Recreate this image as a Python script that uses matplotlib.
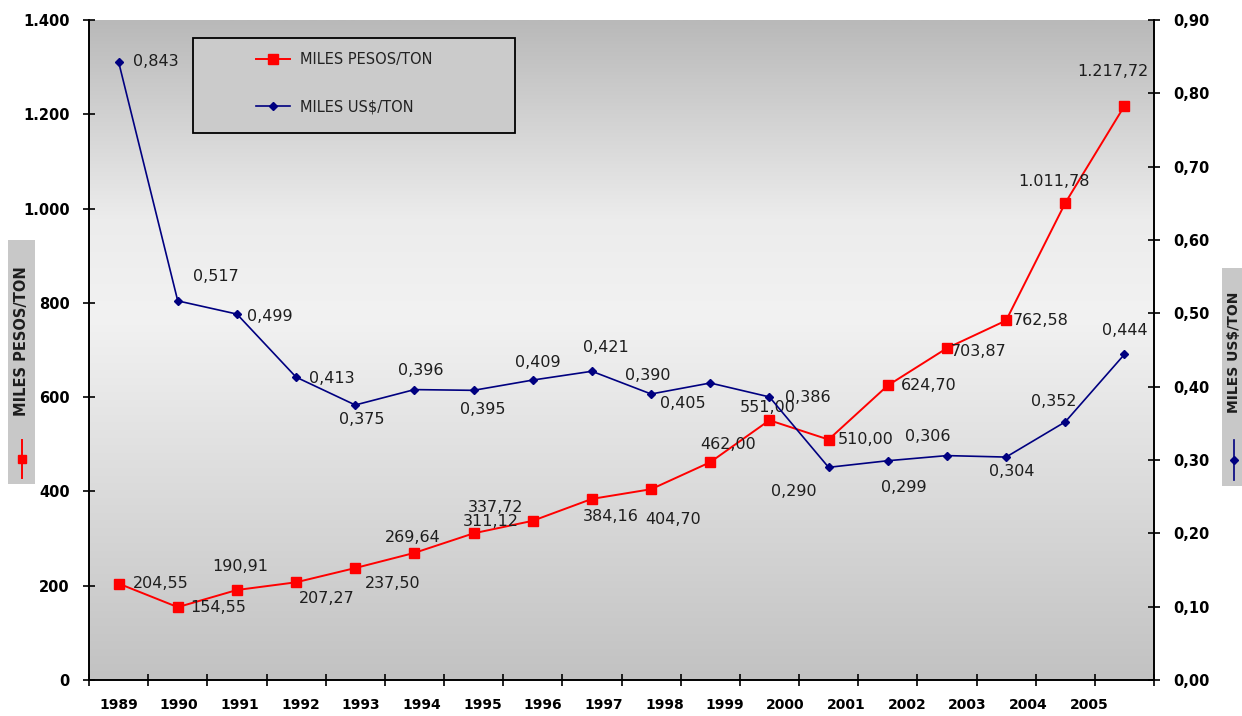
import numpy as np
import matplotlib
matplotlib.use("Agg")
import matplotlib.pyplot as plt
from matplotlib.lines import Line2D
from matplotlib.patches import Rectangle
from matplotlib.colors import LinearSegmentedColormap

plt.rcParams['font.family'] = ['DejaVu Sans']

# data
years = ['1989', '1990', '1991', '1992', '1993', '1994', '1995', '1996', '1997',
         '1998', '1999', '2000', '2001', '2002', '2003', '2004', '2005']
pesos = [204.55, 154.55, 190.91, 207.27, 237.50, 269.64, 311.12, 337.72, 384.16,
         404.70, 462.00, 551.00, 510.00, 624.70, 703.87, 762.58, 1011.78, 1217.72]
usd = [0.843, 0.517, 0.499, 0.413, 0.375, 0.396, 0.395, 0.409, 0.421,
       0.390, 0.405, 0.386, 0.290, 0.299, 0.306, 0.304, 0.352, 0.444]

# label offsets in pixels (dx, dy; dy positive = down)
pesos_off = [(42, 0), (40, 0), (3, -23), (31, 16), (37, 15), (-2, -15), (17, -12),
             (-37, -13), (19, 18), (22, 30), (18, -18), (-2, -13), (37, 0), (41, 0),
             (32, 3), (35, 0), (-11, -22), (-12, -34)]
usd_off = [(37, 0), (38, -24), (33, 2), (36, 1), (7, 15), (6, -19), (9, 19), (5, -18),
           (14, -24), (-3, -18), (-27, 21), (38, 1), (-35, 24), (16, 27), (-19, -19),
           (6, 14), (-11, -20), (0, -24)]


def fmt_pesos(v):
    s = f"{v:,.2f}"
    return s.replace(',', 'X').replace('.', ',').replace('X', '.')


def fmt_usd(v):
    return f"{v:.3f}".replace('.', ',')


fig = plt.figure(figsize=(12.42, 7.16), dpi=100)
ax = fig.add_axes([89 / 1242, 36 / 716, 1065 / 1242, 660 / 716])
ax2 = ax.twinx()

x = np.arange(len(pesos))
ax.set_xlim(-0.5, len(pesos) - 0.5)
ax.set_ylim(0, 1400)
ax2.set_ylim(0, 0.9)

# background gradient
cmap = LinearSegmentedColormap.from_list(
    'bg', [(0, '#c2c2c2'), (0.55, '#f2f2f2'), (0.7, '#ececec'), (1, '#b9b9b9')])
grad = np.linspace(0, 1, 256).reshape(-1, 1)
ax.imshow(grad, cmap=cmap, aspect='auto', extent=(-0.5, len(pesos) - 0.5, 0, 1400),
          origin='lower', zorder=0)

l1, = ax.plot(x, pesos, color='#ff0000', lw=1.4, marker='s', ms=7,
              label='MILES PESOS/TON', zorder=3)
l2, = ax2.plot(x, usd, color='#000080', lw=1.2, marker='D', ms=4.5,
               label='MILES US$/TON', zorder=3)

for i, v in enumerate(pesos):
    dx, dy = pesos_off[i]
    ax.annotate(fmt_pesos(v), (x[i], v), xytext=(dx * 0.72, -dy * 0.72),
                textcoords='offset points', ha='center', va='center',
                fontsize=11.5, color='#1e1e1e', zorder=4)
for i, v in enumerate(usd):
    dx, dy = usd_off[i]
    ax2.annotate(fmt_usd(v), (x[i], v), xytext=(dx * 0.72, -dy * 0.72),
                 textcoords='offset points', ha='center', va='center',
                 fontsize=11.5, color='#1e1e1e', zorder=4)

# x axis: ticks between categories, labels spread under them
ax.set_xticks(np.arange(-0.5, len(pesos) + 0.5, 1))
ax.set_xticklabels([])
ax.set_xticks(np.linspace(0, 16.4, len(years)), minor=True)
ax.set_xticklabels(years, minor=True, fontsize=10, fontweight='bold')
ax.tick_params(axis='x', which='major', direction='inout', length=8, width=1.2)
ax.tick_params(axis='x', which='minor', length=0, pad=13)

ax.set_yticks(np.arange(0, 1401, 200))
ax.set_yticklabels([f"{v:,}".replace(',', '.') for v in range(0, 1401, 200)],
                   fontsize=10.5, fontweight='bold')
ax.tick_params(axis='y', direction='inout', length=8, width=1.2, pad=10)

ax2.set_yticks(np.arange(0, 0.91, 0.1))
ax2.set_yticklabels([f"{v:.2f}".replace('.', ',') for v in np.arange(0, 0.91, 0.1)],
                    fontsize=10.5, fontweight='bold')
ax2.tick_params(axis='y', direction='inout', length=8, width=1.2, pad=10)

for a in (ax, ax2):
    a.spines['top'].set_visible(False)
    a.spines['left'].set_linewidth(1.2)
    a.spines['right'].set_linewidth(1.2)
    a.spines['bottom'].set_linewidth(1.2)

# legend: frame drawn as rectangle, entries placed inside
ax.add_patch(Rectangle(((193 - 89) / 1065, (680 - 133) / 660), 322 / 1065, 95 / 660,
                       transform=ax.transAxes, fc='#cbcbcb', ec='black', lw=1.3,
                       zorder=5))
leg = ax.legend(handles=[l1, l2], loc='upper left',
                bbox_to_anchor=((256 - 89) / 1065, (680 - 52) / 660),
                frameon=False, fontsize=10.5, labelspacing=2.2, borderpad=0,
                handlelength=2.3, handletextpad=0.7, borderaxespad=0)
for t in leg.get_texts():
    t.set_color('#222222')
leg.set_zorder(6)

# side axis titles in grey boxes
fig.add_artist(Rectangle((8 / 1242, 1 - 484 / 716), 27 / 1242, 244 / 716,
                         transform=fig.transFigure, fc='#c8c8c8', ec='none'))
fig.text(22 / 1242, 1 - 341 / 716, 'MILES PESOS/TON', rotation=90, ha='center',
         va='center', fontsize=10.5, color='#1e1e1e', fontweight='bold')
fig.add_artist(Line2D([22 / 1242] * 3, [1 - 478 / 716, 1 - 459 / 716, 1 - 440 / 716],
                      color='#ff0000', lw=1.4, marker='s', ms=6,
                      markevery=[1], transform=fig.transFigure))

fig.add_artist(Rectangle((1222 / 1242, 1 - 486 / 716), 22 / 1242, 218 / 716,
                         transform=fig.transFigure, fc='#c8c8c8', ec='none'))
fig.text(1234 / 1242, 1 - 352 / 716, 'MILES US$/TON', rotation=90, ha='center',
         va='center', fontsize=10, color='#1e1e1e', fontweight='bold')
fig.add_artist(Line2D([1234 / 1242] * 3, [1 - 480 / 716, 1 - 460 / 716, 1 - 440 / 716],
                      color='#000080', lw=1.2, marker='D', ms=4,
                      markevery=[1], transform=fig.transFigure))

fig.savefig('out.png', dpi=100)
